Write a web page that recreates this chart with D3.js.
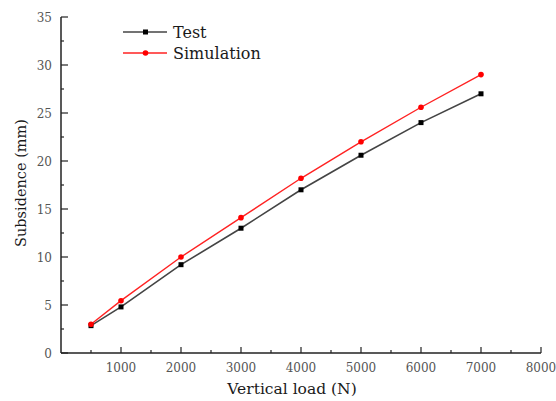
<!DOCTYPE html>
<html><head><meta charset="utf-8">
<script src="https://cdn.jsdelivr.net/npm/d3@7"></script>
<style>html,body{margin:0;padding:0;background:#fff;} text{font-family:"DejaVu Serif", serif;}</style>
</head><body>
<svg id="c" width="556" height="401"></svg>
<script>
const loads = [500, 1000, 2000, 3000, 4000, 5000, 6000, 7000];
const testValues = [2.85, 4.8, 9.2, 13.0, 17.0, 20.6, 24.0, 27.0];
const simValues = [3.0, 5.45, 10.0, 14.1, 18.2, 22.0, 25.6, 29.0];
const xTicks = [1000, 2000, 3000, 4000, 5000, 6000, 7000, 8000];
const yTicks = [0, 5, 10, 15, 20, 25, 30, 35];
const seriesNames = ["Test", "Simulation"];

const svg = d3.select("#c");
const x = d3.scaleLinear().domain([0, 8000]).range([61, 541]);
const y = d3.scaleLinear().domain([0, 35]).range([353, 17]);

// axes
const gx = svg.append("g").attr("transform", "translate(0,353)");
gx.append("line").attr("x1", 61).attr("x2", 541).attr("stroke", "#222").attr("stroke-width", 1.5);
const xMinor = d3.range(500, 8000, 1000);
gx.selectAll(".xm").data(xMinor).join("line")
  .attr("x1", d => x(d)).attr("x2", d => x(d)).attr("y1", 0).attr("y2", -3)
  .attr("stroke", "#222").attr("stroke-width", 1.2);
gx.selectAll(".xM").data(xTicks).join("line")
  .attr("x1", d => x(d)).attr("x2", d => x(d)).attr("y1", 0).attr("y2", -6)
  .attr("stroke", "#222").attr("stroke-width", 1.2);
gx.selectAll("text").data(xTicks).join("text")
  .attr("x", d => x(d)).attr("y", 18.5).attr("text-anchor", "middle")
  .attr("font-size", 12).attr("fill", "#555").text(d => d);

const gy = svg.append("g").attr("transform", "translate(61,0)");
gy.append("line").attr("y1", 17).attr("y2", 353).attr("stroke", "#222").attr("stroke-width", 1.5);
const yMinor = d3.range(2.5, 35, 5);
gy.selectAll(".ym").data(yMinor).join("line")
  .attr("y1", d => y(d)).attr("y2", d => y(d)).attr("x1", 0).attr("x2", 3)
  .attr("stroke", "#222").attr("stroke-width", 1.2);
gy.selectAll(".yM").data(yTicks).join("line")
  .attr("y1", d => y(d)).attr("y2", d => y(d)).attr("x1", 0).attr("x2", 7)
  .attr("stroke", "#222").attr("stroke-width", 1.2);
gy.selectAll("text").data(yTicks).join("text")
  .attr("x", -9).attr("y", d => y(d) + 4.5).attr("text-anchor", "end")
  .attr("font-size", 12).attr("fill", "#555").text(d => d);

svg.append("text").attr("x", 292).attr("y", 394).attr("text-anchor", "middle")
  .attr("font-size", 15.5).attr("fill", "#1a1a1a").text("Vertical load (N)");
svg.append("text").attr("transform", "translate(26,183) rotate(-90)").attr("text-anchor", "middle")
  .attr("font-size", 14.5).attr("fill", "#1a1a1a").text("Subsidence (mm)");

// lines
const line = d3.line().x(d => x(d[0])).y(d => y(d[1]));
const testData = loads.map((l, i) => [l, testValues[i]]);
const simData = loads.map((l, i) => [l, simValues[i]]);

svg.append("path").datum(testData).attr("d", line).attr("fill", "none")
  .attr("stroke", "#444").attr("stroke-width", 1.6);
svg.append("path").datum(simData).attr("d", line).attr("fill", "none")
  .attr("stroke", "#f22").attr("stroke-width", 1.4);
svg.selectAll(".tm").data(testData).join("rect")
  .attr("x", d => x(d[0]) - 2.5).attr("y", d => y(d[1]) - 2.5).attr("width", 5).attr("height", 5).attr("fill", "#000");
svg.selectAll(".sm").data(simData).join("circle")
  .attr("cx", d => x(d[0])).attr("cy", d => y(d[1])).attr("r", 2.8).attr("fill", "#f00");

// legend
const leg = svg.append("g");
const legColors = ["#444", "#f22"];
seriesNames.forEach((name, i) => {
  const ly = 32 + i * 21;
  leg.append("line").attr("x1", 123).attr("x2", 167).attr("y1", ly).attr("y2", ly)
    .attr("stroke", legColors[i]).attr("stroke-width", 1.4);
  if (i === 0) leg.append("rect").attr("x", 143).attr("y", ly - 2.5).attr("width", 5).attr("height", 5).attr("fill", "#000");
  else leg.append("circle").attr("cx", 145.5).attr("cy", ly).attr("r", 2.8).attr("fill", "#f00");
  leg.append("text").attr("x", 173).attr("y", ly + 5.5)
    .attr("font-size", 16).attr("fill", "#1a1a1a").text(name);
});
</script>
</body></html>
